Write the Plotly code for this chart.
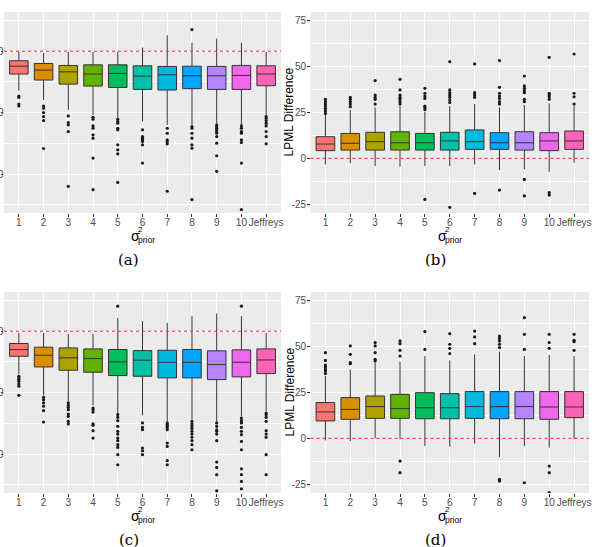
import plotly.graph_objects as go

cats = ["1", "2", "3", "4", "5", "6", "7", "8", "9", "10", "Jeffreys"]
colors = ["#F8766D", "#DB8E00", "#AEA200", "#64B200", "#00BD5C", "#00C1A7",
          "#00BADE", "#00A6FF", "#B385FF", "#EF67EB", "#FF63B6"]

# ---- panel (a) ----
a_hi = [-0.5, -1.4, -0.5, -0.5, -0.5, 3.0, 13.0, 6.8, 10.3, 6.8, -0.5]
a_q3 = [-7.8, -10.0, -11.6, -11.1, -11.1, -11.9, -12.4, -12.2, -12.4, -11.6, -11.9]
a_med = [-12.2, -15.4, -16.8, -18.6, -18.1, -20.3, -19.2, -20.0, -20.0, -19.7, -18.6]
a_q1 = [-18.6, -23.5, -26.8, -28.4, -29.5, -31.1, -31.6, -30.5, -31.1, -31.1, -28.1]
a_lo = [-32.2, -39.7, -47.8, -51.9, -54.6, -57.3, -60.0, -60.0, -58.6, -60.0, -51.9]
a_out = [
    [-36.5, -37.6, -43.0, -44.6],
    [-44.6, -46.5, -50.0, -53.2, -56.5, -79.2],
    [-52.7, -58.1, -60.0, -65.4, -110.0],
    [-53.8, -55.4, -60.8, -62.7, -68.1, -70.8, -87.0, -112.7],
    [-55.4, -57.3, -58.6, -62.7, -64.0, -76.2, -80.3, -83.5, -106.8],
    [-64.0, -69.5, -70.8, -72.2, -73.5, -76.2, -91.1],
    [-62.7, -66.8, -72.2, -73.5, -75.4, -114.0],
    [17.6, -61.4, -62.7, -66.8, -70.8, -76.2, -78.9, -120.8],
    [-60.0, -61.4, -62.7, -64.0, -65.4, -66.8, -69.5, -74.9, -85.1, -97.8],
    [-60.8, -62.7, -65.4, -66.8, -72.2, -74.3, -91.1, -128.9],
    [-53.2, -54.6, -56.5, -58.6, -60.8, -65.4, -69.5, -75.4],
]

# ---- panel (b) ----
b_hi = [23.6, 26.4, 27.8, 28.5, 25.5, 28.5, 29.6, 27.8, 29.1, 30.0, 28.5]
b_q3 = [11.8, 13.6, 14.2, 14.5, 13.6, 14.2, 15.5, 14.0, 14.5, 14.0, 14.9]
b_med = [7.8, 8.2, 9.1, 8.5, 8.5, 9.5, 9.1, 8.5, 8.5, 9.5, 9.5]
b_q1 = [4.2, 4.5, 4.5, 4.5, 4.5, 4.5, 4.9, 4.9, 4.5, 4.2, 4.9]
b_lo = [-3.3, -2.7, -4.2, -4.5, -4.2, -4.2, -3.3, -6.4, -6.0, -7.3, -2.4]
b_out = [
    [32.2, 30.9, 29.6, 28.5, 27.3, 26.0, 24.5],
    [33.3, 32.2, 30.9, 29.6, 28.2],
    [42.4, 34.5, 33.3, 32.2, 29.6],
    [43.1, 37.3, 34.5, 33.3, 32.2, 30.9, 29.6],
    [38.2, 35.5, 34.0, 32.7, 28.5, 27.8, 26.7, -22.4],
    [52.7, 37.3, 35.8, 34.5, 33.3, 31.8, 30.4, -26.7],
    [51.5, 35.8, 34.5, 33.3, -19.1],
    [53.3, 38.7, 35.5, 34.0, 32.7, 30.9, 29.6, -17.3],
    [44.9, 39.5, 38.2, 36.9, 35.8, 32.2, 30.9, -11.5, -20.5],
    [55.1, 35.5, 34.5, 33.6, 32.2, -18.7, -20.0],
    [56.9, 35.5, 33.6, 29.6],
]

# ---- panel (c) ----
c_hi = [-1.4, -1.4, -2.2, -2.2, 10.9, 8.2, 6.8, 12.2, 14.4, 12.2, -1.4]
c_q3 = [-10.0, -13.0, -13.6, -14.4, -14.9, -15.8, -15.5, -14.9, -16.0, -15.2, -14.4]
c_med = [-15.0, -19.6, -21.7, -22.3, -25.0, -23.6, -25.3, -25.3, -27.2, -25.3, -23.4]
c_q1 = [-20.4, -29.1, -31.8, -33.4, -36.1, -36.7, -38.0, -38.0, -39.4, -37.2, -34.5]
c_lo = [-35.3, -52.2, -57.0, -60.3, -67.4, -68.5, -73.4, -72.0, -73.4, -69.3, -65.2]
c_out = [
    [-36.7, -38.0, -39.4, -40.8, -42.9, -44.8, -52.2],
    [-53.8, -55.7, -58.4, -61.1, -64.7, -73.9],
    [-58.4, -60.3, -62.0, -63.9, -67.4, -69.3, -73.4, -75.5],
    [-62.5, -63.9, -65.8, -75.5, -76.6, -81.0, -87.0],
    [20.4, -67.9, -70.1, -72.8, -77.4, -81.5, -83.7, -87.0, -89.1, -92.4, -94.6, -100.5, -108.7],
    [-74.7, -78.3, -80.2, -95.1, -97.3, -100.5],
    [-74.7, -76.1, -77.4, -78.8, -80.2, -91.0, -93.8, -105.4, -108.7],
    [-73.4, -75.5, -77.4, -79.3, -81.5, -83.7, -86.4, -89.1, -92.4, -96.5],
    [-74.7, -77.4, -80.2, -81.5, -83.7, -89.1, -106.5, -110.9, -116.8, -129.9],
    [20.4, -70.7, -72.8, -74.7, -78.3, -81.5, -84.2, -89.7, -96.5, -112.0, -116.8, -122.3, -128.3],
    [-66.6, -67.9, -70.1, -73.4, -81.0, -83.7, -86.4, -100.5, -116.8],
]

# ---- panel (d) ----
d_hi = [34.0, 37.6, 41.3, 41.8, 44.9, 42.5, 45.8, 47.3, 44.9, 45.5, 44.9]
d_q3 = [19.5, 22.2, 23.1, 24.0, 24.9, 24.4, 25.5, 25.5, 25.5, 25.5, 25.5]
d_med = [14.4, 15.8, 17.3, 16.2, 16.7, 16.7, 17.3, 17.3, 17.3, 17.1, 17.1]
d_q1 = [9.5, 10.4, 10.9, 10.9, 10.7, 10.7, 10.9, 10.7, 10.7, 10.4, 11.3]
d_lo = [-1.1, -1.5, 0.0, -0.5, -4.2, -4.5, -2.9, -10.2, -4.2, -5.1, -0.5]
d_out = [
    [46.7, 42.5, 40.0, 38.9, 37.6, 36.7, 35.3],
    [50.4, 45.8, 41.3, 40.7],
    [52.2, 50.4, 46.7, 43.1, 42.2],
    [53.1, 51.6, 48.0, 44.9, -12.4, -18.7],
    [58.2, 48.5],
    [57.1, 51.3, 49.1, 46.2],
    [58.5, 55.3, 51.6],
    [55.8, 54.5, 53.1, 51.3, 49.5, -22.4, -23.3],
    [65.8, 56.7, 48.5, -24.2],
    [56.7, 52.2, 49.1, -15.1, -18.7, -29.6],
    [56.7, 53.5, 52.7, 48.0],
]

left_ticks = [0, -50, -100]
right_ticks = [-25, 0, 25, 50, 75]
captions = ["(a)", "(b)", "(c)", "(d)"]

W, H = 599, 547
def px(x):
    return x / W
def py(y):
    return 1 - y / H

fig = go.Figure()

panels = [
    dict(hi=a_hi, q3=a_q3, med=a_med, q1=a_q1, lo=a_lo, out=a_out, ax=""),
    dict(hi=b_hi, q3=b_q3, med=b_med, q1=b_q1, lo=b_lo, out=b_out, ax="2"),
    dict(hi=c_hi, q3=c_q3, med=c_med, q1=c_q1, lo=c_lo, out=c_out, ax="3"),
    dict(hi=d_hi, q3=d_q3, med=d_med, q1=d_q1, lo=d_lo, out=d_out, ax="4"),
]

for p in panels:
    xa, ya = "x" + p["ax"], "y" + p["ax"]
    for i, c in enumerate(cats):
        fig.add_trace(go.Box(
            x=[c], q1=[p["q1"][i]], median=[p["med"][i]], q3=[p["q3"][i]],
            lowerfence=[p["lo"][i]], upperfence=[p["hi"][i]],
            fillcolor=colors[i], line=dict(color="#333333", width=1),
            whiskerwidth=0, width=0.75, boxpoints=False,
            xaxis=xa, yaxis=ya, showlegend=False, hoverinfo="skip"))
        fig.add_trace(go.Scatter(
            x=[c] * len(p["out"][i]), y=p["out"][i], mode="markers",
            marker=dict(color="#1a1a1a", size=3.2),
            xaxis=xa, yaxis=ya, showlegend=False, hoverinfo="skip"))

# panel geometry (pixels)
colx = [(4, 281), (310.5, 589)]
rowy = [(12, 213), (292, 493)]
SANS = "Liberation Sans"
tickfont = dict(family=SANS, size=10, color="#4D4D4D")

layout = dict(
    width=W, height=H, margin=dict(l=0, r=0, t=0, b=0),
    paper_bgcolor="white", plot_bgcolor="#EBEBEB",
    boxmode="overlay", showlegend=False,
)

for k, p in enumerate(panels):
    r, cidx = divmod(k, 2)
    x0, x1 = colx[cidx]
    y0, y1 = rowy[r]
    sfx = p["ax"]
    xa = dict(domain=[px(x0), px(x1)], type="category", categoryorder="array",
              categoryarray=cats, range=[-0.6, 10.6], showgrid=True,
              gridcolor="white", gridwidth=1.2, ticks="outside", ticklen=2.5,
              tickcolor="#333333", tickfont=tickfont, tickangle=0, zeroline=False,
              ticklabelstandoff=-3,
              anchor="y" + sfx, automargin=False)
    if cidx == 0:
        yr = [-131.7, 31.9]
        tv = left_ticks
        mdt = 25
        extra = dict(ticklabelstandoff=-5)
    else:
        yr = [-29.8, 79.8]
        tv = right_ticks
        mdt = 12.5
        extra = dict(ticklabelstandoff=-1)
    yaxd = dict(domain=[py(y1), py(y0)], range=yr, tickvals=tv,
                ticktext=[str(v) for v in tv], showgrid=True, gridcolor="white",
                gridwidth=1.2, zeroline=False, ticks="outside", ticklen=2.5,
                tickcolor="#333333", tickfont=tickfont,
                minor=dict(dtick=mdt, tick0=0, showgrid=True, gridcolor="white", gridwidth=0.6),
                anchor="x" + sfx, automargin=False, **extra)
    layout["xaxis" + sfx] = xa
    layout["yaxis" + sfx] = yaxd

fig.update_layout(**layout)

shapes = []
annotations = []
for k, p in enumerate(panels):
    r, cidx = divmod(k, 2)
    sfx = p["ax"]
    shapes.append(dict(type="line", xref="x" + sfx + " domain" if sfx else "x domain",
                       yref="y" + sfx, x0=0, x1=1, y0=0, y1=0,
                       line=dict(color="#FF2020", width=1, dash="dot")))
    x0, x1 = colx[cidx]
    y0, y1 = rowy[r]
    xc = (x0 + x1) / 2
    # axis title sigma^2_prior
    annotations.append(dict(text="σ", x=px(xc - 7), y=py(y1 + 22.5), xref="paper", yref="paper",
                            showarrow=False, font=dict(family=SANS, size=14, color="black"),
                            xanchor="center", yanchor="middle"))
    annotations.append(dict(text="2", x=px(xc - 2.5), y=py(y1 + 16.5), xref="paper", yref="paper",
                            showarrow=False, font=dict(family=SANS, size=8, color="black"),
                            xanchor="center", yanchor="middle"))
    annotations.append(dict(text="prior", x=px(xc + 3.5), y=py(y1 + 27), xref="paper", yref="paper",
                            showarrow=False, font=dict(family=SANS, size=8.5, color="black"),
                            xanchor="center", yanchor="middle"))
    # caption
    annotations.append(dict(text=captions[k], x=px(xc - 14), y=py(y1 + 47), xref="paper", yref="paper",
                            showarrow=False, font=dict(family="DejaVu Serif", size=15, color="black"),
                            xanchor="center", yanchor="middle"))
    if cidx == 1:
        annotations.append(dict(text="LPML Difference", x=px(289), y=py((y0 + y1) / 2),
                                xref="paper", yref="paper", textangle=-90, showarrow=False,
                                font=dict(family=SANS, size=12, color="black"),
                                xanchor="center", yanchor="middle"))

fig.update_layout(shapes=shapes, annotations=annotations)
fig.write_html("out.html")
